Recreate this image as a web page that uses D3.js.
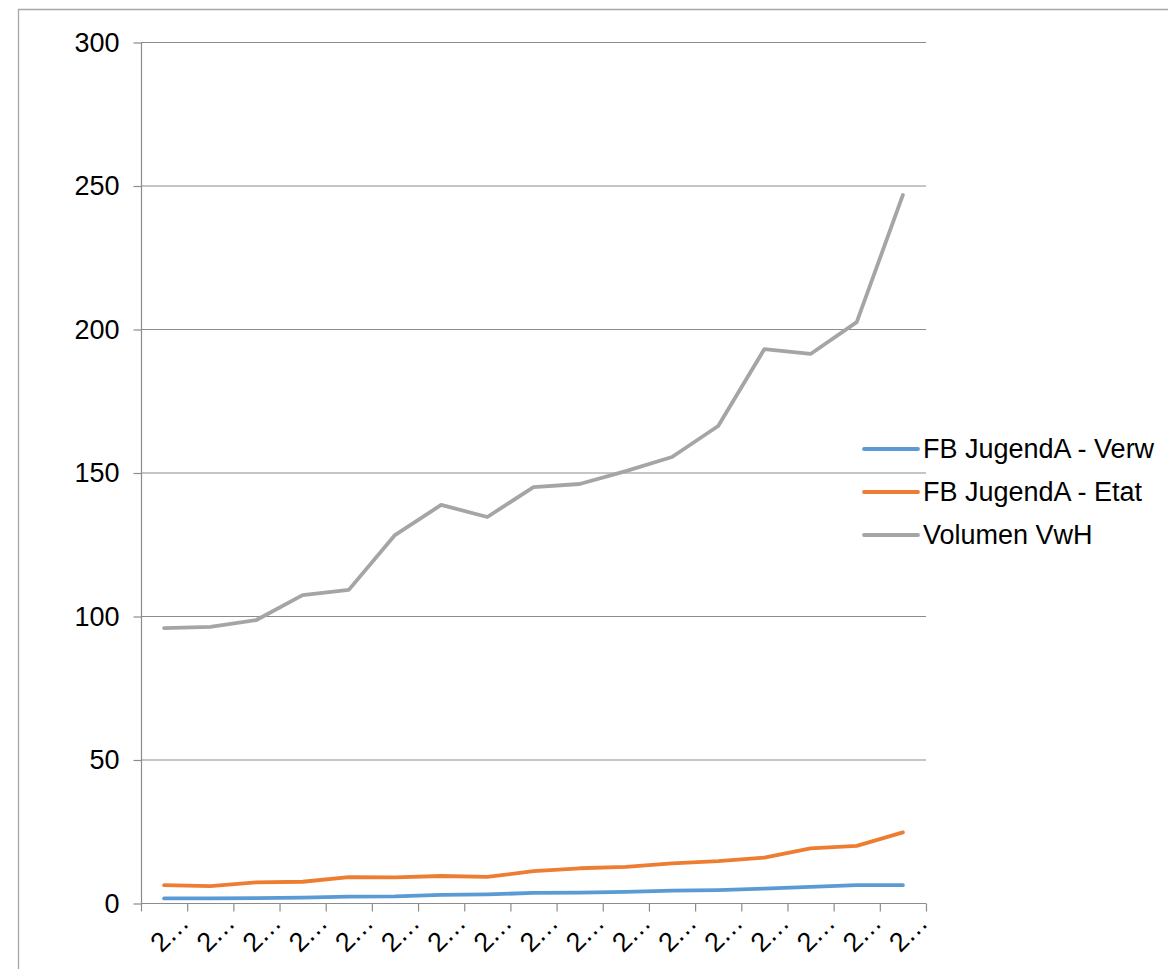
<!DOCTYPE html>
<html>
<head>
<meta charset="utf-8">
<script src="https://cdn.jsdelivr.net/npm/d3@7"></script>
<style>
  body { margin: 0; padding: 0; background: #fff; }
  text { font-family: "Liberation Sans", Arial, sans-serif; fill: #000; }
</style>
</head>
<body>
<script>
// categories (labels are cut off to "2…" in the original)
const categories = d3.range(17).map(i => `c${i}`);
const catLabels = categories.map(() => '2\u2026');

const seriesNames = ['FB JugendA - Verw', 'FB JugendA - Etat', 'Volumen VwH'];
const verw = [1.6, 1.6, 1.7, 1.9, 2.2, 2.3, 2.8, 3.0, 3.5, 3.6, 3.9, 4.3, 4.5, 5.0, 5.6, 6.2, 6.2];
const etat = [6.2, 5.9, 7.2, 7.4, 9.0, 8.9, 9.4, 9.1, 11.1, 12.1, 12.6, 13.8, 14.6, 15.8, 19.0, 19.9, 24.6];
const vwh = [95.8, 96.2, 98.6, 107.3, 109.1, 128.2, 138.7, 134.5, 144.9, 146.0, 150.5, 155.4, 166.2, 193.0, 191.3, 202.4, 246.7];
const yTicks = [0, 50, 100, 150, 200, 250, 300];

const colors = ['#5B9BD5', '#ED7D31', '#A5A5A5'];
const series = [verw, etat, vwh];

const width = 1168, height = 969;
const plot = { left: 141, right: 926, top: 42, bottom: 903 };
const fontSize = '27px';

const svg = d3.select('body').append('svg')
  .attr('width', width)
  .attr('height', height);

// outer chart frame
svg.append('path')
  .attr('d', `M18.5,${height} L18.5,9.5 L${width},9.5`)
  .attr('fill', 'none')
  .attr('stroke', '#a6a6a6')
  .attr('stroke-width', 1.3);

const xScale = d3.scaleBand()
  .domain(categories)
  .range([plot.left, plot.right]);

const yScale = d3.scaleLinear()
  .domain([0, 300])
  .range([plot.bottom, plot.top]);

// gridlines
svg.append('g')
  .selectAll('line')
  .data(yTicks.filter(d => d > 0))
  .join('line')
    .attr('x1', plot.left)
    .attr('x2', plot.right)
    .attr('y1', d => yScale(d) + 0.5)
    .attr('y2', d => yScale(d) + 0.5)
    .attr('stroke', '#8c8c8c')
    .attr('stroke-width', 1.2);

// y axis
const yAxis = d3.axisLeft(yScale).tickValues(yTicks).tickSize(8).tickPadding(14);
const gy = svg.append('g')
  .attr('transform', `translate(${plot.left + 0.5},0.5)`)
  .call(yAxis);
gy.selectAll('path, line').attr('stroke', '#8c8c8c').attr('stroke-width', 1.2);
gy.select('.domain').attr('d', `M0,${plot.top}V${plot.bottom}`);
gy.selectAll('text')
  .style('font-family', '"Liberation Sans", Arial, sans-serif')
  .style('font-size', fontSize)
  .attr('fill', '#000');

// x axis with ticks on band edges
const gx = svg.append('g')
  .attr('transform', `translate(0,${plot.bottom + 0.5})`);
gx.append('line')
  .attr('x1', plot.left).attr('x2', plot.right)
  .attr('stroke', '#8c8c8c').attr('stroke-width', 1.2);
const edges = categories.map(c => xScale(c)).concat([plot.right]);
gx.selectAll('.tick')
  .data(edges)
  .join('line')
    .attr('class', 'tick')
    .attr('x1', d => d + 0.5).attr('x2', d => d + 0.5)
    .attr('y1', 0).attr('y2', 8)
    .attr('stroke', '#8c8c8c').attr('stroke-width', 1.2);
gx.selectAll('text')
  .data(categories)
  .join('text')
    .attr('transform', d => `translate(${xScale(d) + xScale.bandwidth() / 2 + 19},${15}) rotate(-45)`)
    .attr('text-anchor', 'end')
    .attr('dy', '0.35em')
    .attr('letter-spacing', '-1px')
    .style('font-size', fontSize)
    .text((d, i) => catLabels[i]);

// lines
const line = d3.line()
  .x((d, i) => xScale(categories[i]) + xScale.bandwidth() / 2)
  .y(d => yScale(d));

svg.append('g')
  .selectAll('path')
  .data(series)
  .join('path')
    .attr('d', line)
    .attr('fill', 'none')
    .attr('stroke', (d, i) => colors[i])
    .attr('stroke-width', 3.8)
    .attr('stroke-linejoin', 'round')
    .attr('stroke-linecap', 'round');

// legend
const legend = svg.append('g')
  .attr('transform', 'translate(864,449)');
const items = legend.selectAll('g')
  .data(seriesNames)
  .join('g')
    .attr('transform', (d, i) => `translate(0,${i * 43})`);
items.append('line')
  .attr('x1', 0).attr('x2', 54)
  .attr('stroke', (d, i) => colors[i])
  .attr('stroke-width', 3.8)
  .attr('stroke-linecap', 'round');
items.append('text')
  .attr('x', 59)
  .attr('dy', '0.35em')
  .style('font-size', fontSize)
  .text(d => d);
</script>
</body>
</html>
